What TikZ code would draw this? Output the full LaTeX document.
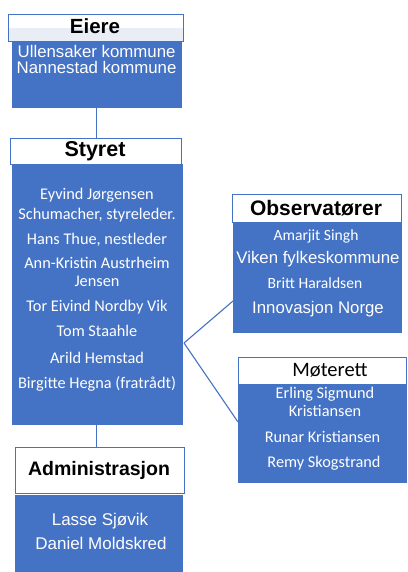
\documentclass[tikz,border=0pt]{standalone}
\usepackage{fontspec}
\setmainfont{Liberation Sans}
\newfontfamily\calfont{Carlito}
\definecolor{obl}{HTML}{4472C4}
\definecolor{tint}{HTML}{E9EDF6}
\tikzset{
  hdr/.style={draw=obl, line width=0.9pt, fill=white, inner sep=0pt},
  bdy/.style={fill=obl, draw=none, inner sep=0pt},
  htxt/.style={anchor=base, inner sep=0pt, font=\bfseries\fontsize{20.5}{22}\selectfont},
  atxt/.style={anchor=base, inner sep=0pt, text=white, font=\fontsize{16.8}{18}\selectfont},
  ctxt/.style={anchor=base, inner sep=0pt, text=white, font=\calfont\fontsize{16.3}{18}\selectfont},
  conn/.style={draw=obl, line width=1.1pt}
}
\begin{document}
\begin{tikzpicture}[x=1pt,y=-1pt]
\useasboundingbox (0,0) rectangle (407,572);
% ---- Eiere
\node[bdy, minimum width=170pt, minimum height=67pt] (eb) at (97,74.5) {};
\node[hdr, minimum width=174.5pt, minimum height=27pt] (eh) at (96,27.5) {};
\fill[tint] (9.3,28.3) rectangle (182.7,40.6);
\node[htxt] (eht) at (95,33.5) {Eiere};
\node[atxt, anchor=base west] (e1) at (17.5,57.3) {Ullensaker kommune};
\node[atxt, anchor=base west] (e2) at (16.5,74) {Nannestad kommune};
% ---- Styret
\node[bdy, minimum width=171pt, minimum height=261pt] (sb) at (97.5,294.5) {};
\node[hdr, minimum width=171pt, minimum height=26pt] (sh) at (95.5,151) {};
\node[htxt, font=\bfseries\fontsize{21.5}{22}\selectfont] (sht) at (95,157) {Styret};
\foreach \i/\yy/\t in {1/199.3/{Eyvind Jørgensen},2/219/{Schumacher, styreleder.},3/244/{Hans Thue, nestleder},4/268/{Ann-Kristin Austrheim},5/286.7/{Jensen},6/311.7/{Tor Eivind Nordby Vik},7/336.7/{Tom Staahle},8/363/{Arild Hemstad},9/388/{Birgitte Hegna (fratrådt)}}
  \node[ctxt] (s\i) at (97,\yy) {\t};
% ---- Administrasjon
\node[bdy, minimum width=168pt, minimum height=77pt] (ab) at (99,533.5) {};
\node[hdr, minimum width=169pt, minimum height=46pt] (ah) at (99.5,470) {};
\node[htxt, font=\bfseries\fontsize{19.5}{21}\selectfont] (aht) at (99,475) {Administrasjon};
\node[atxt, font=\fontsize{17}{19}\selectfont] (a1) at (100,525) {Lasse Sjøvik};
\node[atxt, font=\fontsize{17}{19}\selectfont] (a2) at (101,549) {Daniel Moldskred};
% ---- Observatører
\node[bdy, minimum width=169pt, minimum height=111pt] (ob) at (317.5,277.5) {};
\node[hdr, minimum width=169.5pt, minimum height=28pt] (oh) at (316.8,208) {};
\node[htxt, font=\bfseries\fontsize{21}{22}\selectfont] (oht) at (316,215) {Observatører};
\node[ctxt, font=\calfont\fontsize{15.6}{18}\selectfont] (o1) at (316,240) {Amarjit Singh};
\node[atxt] (o2) at (318,263.3) {Viken fylkeskommune};
\node[ctxt, font=\calfont\fontsize{15.6}{18}\selectfont] (o3) at (315,288.3) {Britt Haraldsen};
\node[atxt] (o4) at (318,313.3) {Innovasjon Norge};
% ---- Møterett
\node[bdy, minimum width=169pt, minimum height=98pt] (mb) at (322.5,434) {};
\node[hdr, minimum width=168.5pt, minimum height=27.5pt] (mh) at (322.5,371) {};
\node[anchor=base, inner sep=0pt, font=\calfont\fontsize{20.5}{24}\selectfont] (mht) at (330,376.7) {Møterett};
\node[ctxt] (m1) at (325,398.3) {Erling Sigmund};
\node[ctxt] (m2) at (325,416.7) {Kristiansen};
\node[ctxt] (m3) at (322.5,442.7) {Runar Kristiansen};
\node[ctxt] (m4) at (324,467.7) {Remy Skogstrand};
% ---- connectors
\draw[conn] (eb.south -| 96.5,0) -- (sh.north -| 96.5,0);
\draw[conn] (sb.south -| 96.5,0) -- (ah.north -| 96.5,0);
\coordinate (br) at (184,343);
\coordinate (oe) at (233,301);
\coordinate (me) at (238,422);
\draw[conn] (br) -- (oe);
\draw[conn] (br) -- (me);
\end{tikzpicture}
\end{document}
